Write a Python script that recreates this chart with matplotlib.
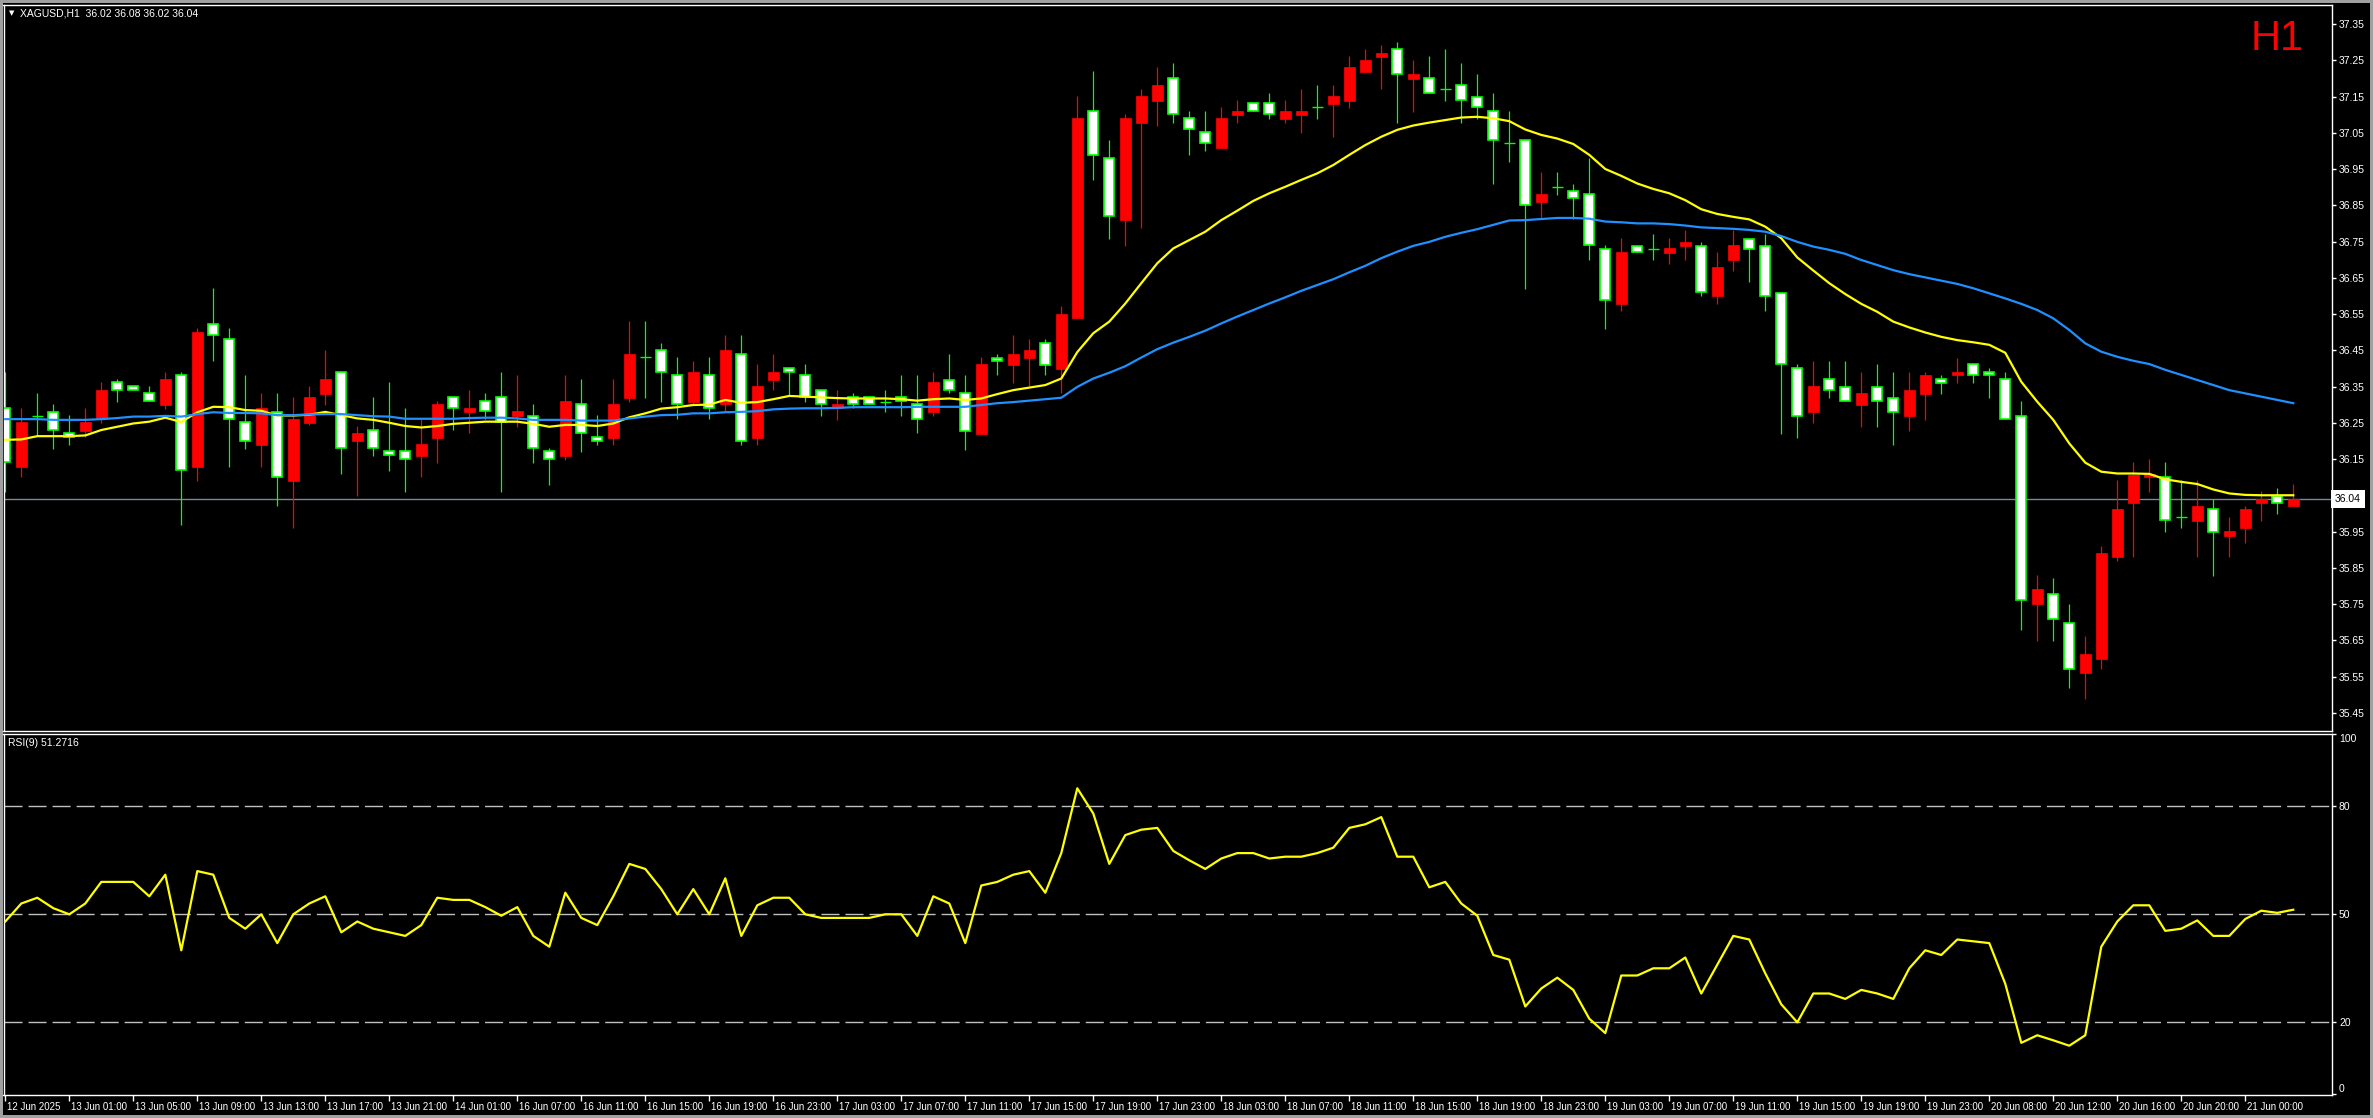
import numpy as np
import matplotlib
matplotlib.use('Agg')
import matplotlib.pyplot as plt
from matplotlib.patches import Rectangle
import matplotlib.transforms as mtransforms

plt.rcParams['font.family'] = ['Liberation Sans Narrow', 'Liberation Sans', 'DejaVu Sans']
plt.rcParams['lines.scale_dashes'] = False

symbol = 'XAGUSD,H1'
last_ohlc = [36.02, 36.08, 36.02, 36.04]

# hourly candles, 12 Jun 21:00 .. 21 Jun 03:00 (broker time)
opens = [36.290, 36.129, 36.270, 36.281, 36.221, 36.227, 36.262, 36.362, 36.351, 36.331,
         36.299, 36.381, 36.129, 36.522, 36.480, 36.251, 36.189, 36.281, 36.090, 36.250,
         36.330, 36.389, 36.201, 36.229, 36.171, 36.171, 36.159, 36.209, 36.320, 36.281,
         36.309, 36.320, 36.270, 36.270, 36.171, 36.159, 36.301, 36.210, 36.209, 36.319,
         36.431, 36.450, 36.381, 36.308, 36.381, 36.301, 36.439, 36.209, 36.369, 36.400,
         36.381, 36.339, 36.290, 36.320, 36.320, 36.308, 36.320, 36.301, 36.281, 36.369,
         36.331, 36.220, 36.429, 36.410, 36.429, 36.469, 36.399, 36.540, 37.109, 36.979,
         36.809, 37.078, 37.138, 37.200, 37.090, 37.051, 37.009, 37.100, 37.131, 37.131,
         37.089, 37.100, 37.120, 37.130, 37.138, 37.218, 37.260, 37.280, 37.199, 37.200,
         37.170, 37.181, 37.150, 37.109, 37.021, 37.029, 36.860, 36.899, 36.890, 36.880,
         36.730, 36.578, 36.738, 36.730, 36.719, 36.738, 36.738, 36.600, 36.700, 36.758,
         36.738, 36.609, 36.400, 36.281, 36.370, 36.350, 36.300, 36.350, 36.319, 36.270,
         36.330, 36.370, 36.381, 36.411, 36.390, 36.370, 36.270, 35.749, 35.779, 35.699,
         35.561, 35.599, 35.881, 36.030, 36.099, 36.099, 35.989, 35.980, 36.011, 35.939,
         35.960, 36.030, 36.049, 36.020]
highs = [36.389, 36.290, 36.331, 36.301, 36.271, 36.290, 36.362, 36.371, 36.351, 36.351,
         36.389, 36.389, 36.511, 36.621, 36.511, 36.381, 36.331, 36.331, 36.321, 36.351,
         36.451, 36.389, 36.240, 36.321, 36.362, 36.290, 36.260, 36.310, 36.320, 36.340,
         36.331, 36.389, 36.381, 36.301, 36.180, 36.381, 36.371, 36.271, 36.371, 36.531,
         36.531, 36.469, 36.431, 36.420, 36.431, 36.491, 36.491, 36.411, 36.440, 36.400,
         36.411, 36.339, 36.340, 36.331, 36.320, 36.340, 36.381, 36.381, 36.389, 36.439,
         36.381, 36.431, 36.440, 36.492, 36.481, 36.481, 36.572, 37.151, 37.220, 37.030,
         37.101, 37.170, 37.231, 37.242, 37.110, 37.110, 37.121, 37.140, 37.131, 37.160,
         37.140, 37.171, 37.182, 37.182, 37.262, 37.281, 37.292, 37.299, 37.251, 37.262,
         37.281, 37.242, 37.212, 37.160, 37.110, 37.029, 36.941, 36.941, 36.910, 36.979,
         36.739, 36.759, 36.738, 36.770, 36.759, 36.782, 36.750, 36.720, 36.782, 36.758,
         36.770, 36.609, 36.411, 36.420, 36.420, 36.420, 36.390, 36.412, 36.390, 36.390,
         36.390, 36.381, 36.430, 36.411, 36.400, 36.390, 36.309, 35.829, 35.821, 35.749,
         35.662, 35.909, 36.092, 36.142, 36.150, 36.142, 36.092, 36.092, 36.041, 35.990,
         36.020, 36.062, 36.070, 36.080]
lows = [36.060, 36.099, 36.214, 36.178, 36.189, 36.210, 36.250, 36.308, 36.340, 36.309,
        36.289, 35.968, 36.090, 36.419, 36.129, 36.178, 36.129, 36.019, 35.961, 36.245,
        36.299, 36.109, 36.049, 36.159, 36.118, 36.060, 36.099, 36.140, 36.229, 36.221,
        36.260, 36.060, 36.239, 36.140, 36.078, 36.147, 36.170, 36.189, 36.189, 36.308,
        36.319, 36.308, 36.260, 36.299, 36.260, 36.281, 36.189, 36.189, 36.339, 36.325,
        36.308, 36.270, 36.258, 36.290, 36.301, 36.281, 36.270, 36.221, 36.270, 36.331,
        36.175, 36.220, 36.381, 36.361, 36.351, 36.381, 36.331, 36.540, 36.921, 36.758,
        36.738, 36.788, 37.069, 37.078, 36.990, 37.001, 37.009, 37.078, 37.110, 37.089,
        37.078, 37.050, 37.089, 37.039, 37.119, 37.218, 37.170, 37.078, 37.108, 37.159,
        37.138, 37.078, 37.089, 36.910, 36.970, 36.620, 36.811, 36.878, 36.811, 36.700,
        36.509, 36.559, 36.720, 36.700, 36.689, 36.700, 36.601, 36.578, 36.670, 36.639,
        36.559, 36.220, 36.209, 36.249, 36.319, 36.309, 36.239, 36.239, 36.189, 36.228,
        36.258, 36.330, 36.361, 36.361, 36.319, 36.259, 35.678, 35.649, 35.649, 35.519,
        35.489, 35.570, 35.870, 35.881, 36.060, 35.950, 35.960, 35.881, 35.828, 35.881,
        35.919, 35.980, 35.999, 36.020]
closes = [36.141, 36.252, 36.270, 36.229, 36.210, 36.252, 36.340, 36.340, 36.340, 36.309,
          36.371, 36.119, 36.500, 36.491, 36.260, 36.201, 36.290, 36.099, 36.260, 36.321,
          36.371, 36.180, 36.222, 36.180, 36.160, 36.149, 36.191, 36.302, 36.290, 36.290,
          36.282, 36.253, 36.282, 36.180, 36.149, 36.310, 36.221, 36.201, 36.302, 36.440,
          36.431, 36.389, 36.301, 36.389, 36.290, 36.451, 36.201, 36.352, 36.389, 36.389,
          36.321, 36.301, 36.301, 36.301, 36.301, 36.308, 36.310, 36.260, 36.362, 36.339,
          36.228, 36.412, 36.420, 36.440, 36.451, 36.410, 36.550, 37.091, 36.990, 36.819,
          37.091, 37.151, 37.181, 37.101, 37.059, 37.021, 37.091, 37.110, 37.110, 37.101,
          37.110, 37.110, 37.120, 37.151, 37.231, 37.251, 37.270, 37.211, 37.211, 37.159,
          37.170, 37.140, 37.120, 37.030, 37.021, 36.850, 36.881, 36.899, 36.869, 36.739,
          36.590, 36.720, 36.720, 36.730, 36.731, 36.750, 36.610, 36.681, 36.739, 36.730,
          36.601, 36.411, 36.270, 36.351, 36.340, 36.309, 36.331, 36.309, 36.281, 36.340,
          36.381, 36.361, 36.390, 36.381, 36.381, 36.259, 35.760, 35.791, 35.710, 35.570,
          35.611, 35.890, 36.011, 36.107, 36.110, 35.981, 35.989, 36.020, 35.950, 35.951,
          36.011, 36.041, 36.030, 36.040]

ma_fast = [36.203, 36.204, 36.213, 36.213, 36.213, 36.215, 36.230, 36.239, 36.248, 36.253,
           36.264, 36.252, 36.279, 36.294, 36.293, 36.285, 36.283, 36.270, 36.270, 36.272,
           36.280, 36.271, 36.262, 36.258, 36.250, 36.241, 36.237, 36.241, 36.247, 36.250,
           36.253, 36.253, 36.253, 36.247, 36.239, 36.244, 36.244, 36.241, 36.248, 36.265,
           36.276, 36.289, 36.293, 36.299, 36.300, 36.313, 36.305, 36.307, 36.315, 36.324,
           36.322, 36.320, 36.318, 36.317, 36.317, 36.317, 36.315, 36.311, 36.315, 36.317,
           36.313, 36.317, 36.329, 36.340, 36.347, 36.354, 36.372, 36.445, 36.497, 36.529,
           36.579, 36.635, 36.690, 36.731, 36.754, 36.777, 36.809, 36.835, 36.862, 36.883,
           36.901, 36.920, 36.938, 36.961, 36.989, 37.016, 37.039, 37.058, 37.070, 37.078,
           37.085, 37.092, 37.094, 37.090, 37.082, 37.059, 37.044, 37.034, 37.019, 36.989,
           36.950, 36.931, 36.910, 36.895, 36.883, 36.864, 36.839, 36.826, 36.818, 36.811,
           36.791, 36.759, 36.706, 36.670, 36.635, 36.605, 36.578, 36.556, 36.529, 36.513,
           36.499, 36.487, 36.478, 36.472, 36.465, 36.443, 36.363, 36.308, 36.258, 36.193,
           36.140, 36.115, 36.110, 36.110, 36.109, 36.094, 36.087, 36.081, 36.066, 36.055,
           36.051, 36.050, 36.050, 36.050]
ma_slow = [36.260, 36.260, 36.260, 36.258, 36.258, 36.258, 36.260, 36.263, 36.267, 36.267,
           36.269, 36.267, 36.274, 36.279, 36.277, 36.277, 36.276, 36.271, 36.271, 36.273,
           36.274, 36.274, 36.271, 36.268, 36.267, 36.261, 36.261, 36.261, 36.261, 36.263,
           36.264, 36.264, 36.262, 36.258, 36.258, 36.258, 36.256, 36.256, 36.256, 36.262,
           36.267, 36.271, 36.272, 36.276, 36.276, 36.279, 36.280, 36.282, 36.287, 36.289,
           36.290, 36.290, 36.291, 36.293, 36.293, 36.293, 36.293, 36.294, 36.294, 36.294,
           36.294, 36.299, 36.304, 36.307, 36.311, 36.315, 36.319, 36.349, 36.372, 36.388,
           36.406, 36.430, 36.453, 36.471, 36.487, 36.504, 36.524, 36.543, 36.561, 36.579,
           36.596, 36.614, 36.630, 36.646, 36.665, 36.683, 36.704, 36.722, 36.738, 36.749,
           36.763, 36.774, 36.784, 36.796, 36.808, 36.809, 36.812, 36.815, 36.815, 36.813,
           36.805, 36.803, 36.800, 36.800, 36.798, 36.794, 36.789, 36.787, 36.785, 36.782,
           36.777, 36.765, 36.749, 36.736, 36.727, 36.716, 36.699, 36.685, 36.671, 36.660,
           36.651, 36.642, 36.633, 36.621, 36.607, 36.593, 36.578, 36.561, 36.538, 36.506,
           36.469, 36.446, 36.432, 36.421, 36.412, 36.396, 36.382, 36.368, 36.354, 36.340,
           36.331, 36.322, 36.313, 36.304]

rsi = [48, 53, 54.6, 51.7, 50, 53, 59, 59, 59, 55, 61, 40, 62, 61, 49, 46, 50, 42, 50, 53,
       55, 45, 48, 46, 45, 44, 47, 54.6, 54, 54, 52, 49.6, 52, 44, 41, 56, 49, 47, 55, 64,
       62.6, 57, 50, 57, 50, 60, 44, 52.5, 54.6, 54.6, 50, 49, 49, 49, 49, 50, 50, 44, 55, 53,
       42, 58, 59, 61, 62, 56, 67, 85, 78, 64, 72, 73.5, 74, 67.6, 65, 62.6, 65.5, 67, 67, 65.5,
       66, 66, 67, 68.5, 74, 75, 77, 66, 66, 57.5, 59, 53, 49.6, 38.7, 37.4, 24.4, 29.4, 32.4, 29, 21,
       17, 33, 33, 35, 35, 38, 28, 36, 44, 43, 33.6, 25, 20, 28, 28, 26.5, 29, 28, 26.5, 35,
       40, 38.7, 43, 42.5, 42, 30.7, 14.3, 16.4, 15, 13.5, 16.4, 41, 48, 52.5, 52.5, 45.4, 46, 48.3, 44, 44,
       48.7, 51, 50.4, 51.2716]

time_labels = ['12 Jun 2025', '13 Jun 01:00', '13 Jun 05:00', '13 Jun 09:00', '13 Jun 13:00',
               '13 Jun 17:00', '13 Jun 21:00', '14 Jun 01:00', '16 Jun 07:00', '16 Jun 11:00',
               '16 Jun 15:00', '16 Jun 19:00', '16 Jun 23:00', '17 Jun 03:00', '17 Jun 07:00',
               '17 Jun 11:00', '17 Jun 15:00', '17 Jun 19:00', '17 Jun 23:00', '18 Jun 03:00',
               '18 Jun 07:00', '18 Jun 11:00', '18 Jun 15:00', '18 Jun 19:00', '18 Jun 23:00',
               '19 Jun 03:00', '19 Jun 07:00', '19 Jun 11:00', '19 Jun 15:00', '19 Jun 19:00',
               '19 Jun 23:00', '20 Jun 08:00', '20 Jun 12:00', '20 Jun 16:00', '20 Jun 20:00',
               '21 Jun 00:00']

W, H = 2373, 1118
fig = plt.figure(figsize=(W / 100, H / 100), dpi=100, facecolor='#a0a0a0')
fig.patches.append(Rectangle((3 / W, 3 / H), (W - 6) / W, (H - 6) / H, transform=fig.transFigure,
                             facecolor='black', edgecolor='none', zorder=-10))


def px_axes(x0, y0, x1, y1):
    # box given in pixels from the top-left corner
    return fig.add_axes([x0 / W, 1 - y1 / H, (x1 - x0) / W, (y1 - y0) / H])


ax = px_axes(3.5, 4.5, 2332, 731)
ax2 = px_axes(3.5, 734, 2332, 1095)

x = np.arange(len(opens))
o = np.array(opens)
hi = np.array(highs)
lo = np.array(lows)
c = np.array(closes)
up = c > o
down = c < o
flat = c == o

ax.vlines(x[up], lo[up], hi[up], color='#ff0000', lw=0.9, zorder=2)
ax.vlines(x[~up], lo[~up], hi[~up], color='#00ff00', lw=0.9, zorder=2)
ax.bar(x[up], (c - o)[up], bottom=o[up], width=0.68, color='#ff0000', edgecolor='#ff0000', lw=0.5, zorder=3)
ax.bar(x[down], (o - c)[down], bottom=c[down], width=0.62, color='white', edgecolor='#00ff00', lw=1.2, zorder=3)
ax.hlines(c[flat], x[flat] - 0.34, x[flat] + 0.34, color='#00ff00', lw=1.0, zorder=3)

ax.plot(x, ma_fast, color='#ffff00', lw=1.6, zorder=4)
ax.plot(x, ma_slow, color='#1e90ff', lw=1.6, zorder=4)
ax.axhline(last_ohlc[3], color='#778899', lw=1, zorder=1)

for a in (ax, ax2):
    a.set_facecolor('black')
    a.set_xlim(-0.1125, 145.42)
    for s in a.spines.values():
        s.set_color('white')
        s.set_linewidth(1)
    a.yaxis.tick_right()
    a.tick_params(axis='y', colors='white', labelsize=7.5, length=3, width=1, pad=2)

ax.set_ylim(35.3997, 37.4038)
pt = np.round(np.arange(35.45, 37.36, 0.1), 2)
ax.set_yticks(pt, ['%.2f' % v for v in pt])
ax.set_xticks([])

trans = mtransforms.blended_transform_factory(ax.transAxes, ax.transData)
ax.text(1.0 + 3 / 2328, last_ohlc[3], '%.2f' % last_ohlc[3], transform=trans, ha='left', va='center',
        color='black', fontsize=7.5, clip_on=False, zorder=10,
        bbox=dict(facecolor='white', edgecolor='none', boxstyle='square,pad=0.35'))

# RSI pane
ax2.plot(x, rsi, color='#ffff00', lw=1.6, zorder=3)
for lvl in (20, 50, 80):
    ax2.axhline(lvl, color='#c0c0c0', lw=1, ls=(0, (13, 4.3)), zorder=2)
ax2.set_ylim(-0.19, 100.08)
ax2.set_yticks([0, 20, 50, 80, 100], ['0', '20', '50', '80', '100'])
ylbls = ax2.get_yticklabels()
ylbls[0].set_va('bottom')
ylbls[-1].set_va('top')

ax2.set_xticks(x[::4], time_labels, ha='left')
ax2.tick_params(axis='x', colors='white', labelsize=7, length=4, width=1, pad=1)
shift = mtransforms.ScaledTranslation(2 / 100, 0, fig.dpi_scale_trans)
for lbl in ax2.get_xticklabels():
    lbl.set_transform(lbl.get_transform() + shift)

# captions
fig.text(9 / W, 1 - 13 / H, '\u25bc', fontsize=5, color='white', va='center', family='DejaVu Sans')
fig.text(20 / W, 1 - 13 / H, '%s  %.2f %.2f %.2f %.2f' % (symbol, *last_ohlc),
         fontsize=7.5, color='white', va='center')
fig.text(2304 / W, 1 - 50 / H, 'H1', color='#ff0000', fontsize=30, ha='right', va='baseline',
         family='Liberation Sans')
fig.text(8 / W, 1 - 743 / H, 'RSI(9) %.4f' % rsi[-1], fontsize=7.5, color='white', va='center')

fig.savefig('out.png', dpi=100, facecolor=fig.get_facecolor())
